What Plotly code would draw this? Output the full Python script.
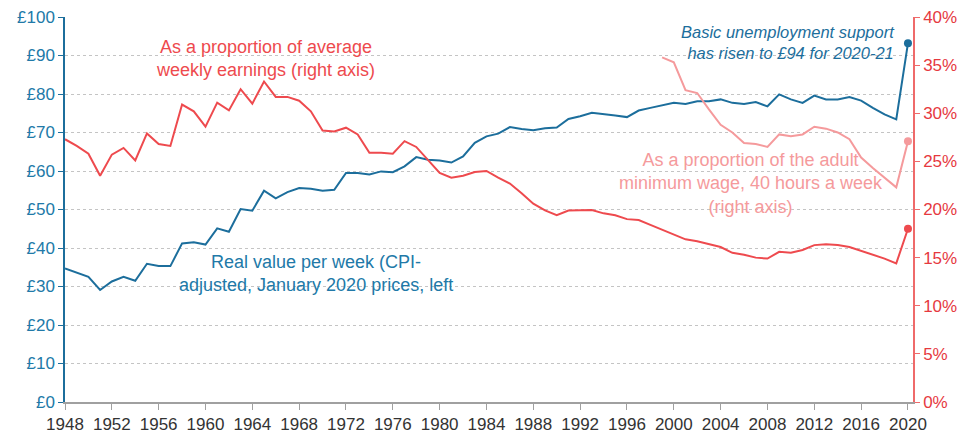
import plotly.graph_objects as go

years = list(range(1948, 2021))
real_value = [34.7, 33.6, 32.5, 29.1, 31.3, 32.5, 31.5, 35.9, 35.3, 35.3,
              41.2, 41.5, 40.9, 45.1, 44.2, 50.1, 49.7, 54.9, 52.9, 54.5,
              55.6, 55.4, 54.9, 55.1, 59.5, 59.5, 59.1, 59.9, 59.7, 61.2,
              63.6, 62.9, 62.7, 62.2, 63.8, 67.3, 69.0, 69.7, 71.4, 70.9,
              70.6, 71.1, 71.3, 73.5, 74.2, 75.1, 74.8, 74.4, 74.0, 75.7,
              76.4, 77.0, 77.7, 77.4, 78.1, 78.1, 78.6, 77.7, 77.4, 77.9,
              76.8, 79.9, 78.6, 77.7, 79.6, 78.6, 78.6, 79.2, 78.3, 76.4,
              74.7, 73.4, 93.2]
pct_earnings = [27.3, 26.6, 25.8, 23.5, 25.7, 26.4, 25.1, 27.9, 26.8, 26.6,
                30.9, 30.2, 28.6, 31.1, 30.3, 32.5, 31.0, 33.3, 31.7, 31.7,
                31.3, 30.2, 28.2, 28.1, 28.5, 27.8, 25.9, 25.9, 25.8, 27.1,
                26.5, 25.2, 23.8, 23.3, 23.5, 23.9, 24.0, 23.3, 22.7, 21.7,
                20.6, 19.9, 19.4, 19.9, 19.9, 19.95, 19.6, 19.4, 19.0, 18.9,
                18.4, 17.9, 17.4, 16.9, 16.7, 16.4, 16.1, 15.5, 15.3, 15.0,
                14.9, 15.6, 15.5, 15.8, 16.3, 16.4, 16.3, 16.1, 15.7, 15.35,
                14.9, 14.4, 18.0]
mw_years = list(range(1999, 2021))
pct_min_wage = [35.8, 35.3, 32.4, 32.1, 30.4, 28.8, 28.0, 26.9, 26.8, 26.5,
                27.8, 27.6, 27.8, 28.6, 28.4, 28.0, 27.3, 25.4, 24.3, 23.3,
                22.3, 27.1]

left_ticks = list(range(0, 101, 10))
left_labels = [f"£{v}" for v in left_ticks]
right_ticks = list(range(0, 41, 5))
right_labels = [f"{v}%" for v in right_ticks]
x_ticks = list(range(1948, 2021, 4))

BLUE = "#1C6E9C"
BLUE_TXT = "#2179A8"
RED = "#EE4A4E"
RED_TXT = "#E6393F"
PINK = "#F59A9C"
FONT = "Liberation Sans, Arial, sans-serif"

fig = go.Figure()
fig.add_trace(go.Scatter(x=years, y=real_value, mode="lines",
                         line=dict(color=BLUE, width=2), yaxis="y"))
fig.add_trace(go.Scatter(x=[years[-1]], y=[real_value[-1]], mode="markers",
                         marker=dict(color=BLUE, size=8), yaxis="y"))
fig.add_trace(go.Scatter(x=years, y=pct_earnings, mode="lines",
                         line=dict(color=RED, width=2), yaxis="y2"))
fig.add_trace(go.Scatter(x=[years[-1]], y=[pct_earnings[-1]], mode="markers",
                         marker=dict(color=RED, size=8), yaxis="y2"))
fig.add_trace(go.Scatter(x=mw_years, y=pct_min_wage, mode="lines",
                         line=dict(color=PINK, width=2), yaxis="y2"))
fig.add_trace(go.Scatter(x=[mw_years[-1]], y=[pct_min_wage[-1]], mode="markers",
                         marker=dict(color=PINK, size=8), yaxis="y2"))

fig.update_layout(
    width=969, height=435,
    margin=dict(l=65, r=56, t=17, b=33, autoexpand=False),
    paper_bgcolor="white", plot_bgcolor="white",
    showlegend=False,
    font=dict(family=FONT, size=17, color="#333333"),
    xaxis=dict(range=[1948, 2020.43], tickvals=x_ticks, ticks="outside",
               ticklen=6, tickcolor="#A0A0A0", showline=True,
               linecolor="#A0A0A0", linewidth=1.5, showgrid=False,
               zeroline=False, automargin=False,
               tickfont=dict(size=17, color="#333333")),
    yaxis=dict(range=[0, 100], tickvals=left_ticks, ticktext=left_labels,
               ticks="outside", ticklen=5, tickcolor=BLUE, showline=True,
               linecolor=BLUE, linewidth=1.5, showgrid=True,
               gridcolor="#C4C4C4", griddash="dot", gridwidth=1,
               zeroline=False, automargin=False,
               tickfont=dict(size=17, color=BLUE_TXT)),
    yaxis2=dict(range=[0, 40], tickvals=right_ticks, ticktext=right_labels,
                overlaying="y", side="right", ticks="outside", ticklen=5,
                tickcolor="#EF6A6A", showline=True, linecolor="#EF6A6A",
                linewidth=1.5, showgrid=False, zeroline=False,
                automargin=False, tickfont=dict(size=17, color=RED_TXT)),
)

fig.add_annotation(x=1965.1, y=89.2, xref="x", yref="y", showarrow=False,
                   text="As a proportion of average<br>weekly earnings (right axis)",
                   font=dict(family=FONT, size=18, color=RED), align="center")
fig.add_annotation(x=1969.4, y=33.4, xref="x", yref="y", showarrow=False,
                   text="Real value per week (CPI-<br>adjusted, January 2020 prices, left",
                   font=dict(family=FONT, size=18, color=BLUE_TXT), align="center")
fig.add_annotation(x=2019.05, y=93.5, xref="x", yref="y", showarrow=False,
                   xanchor="right",
                   text="<i>Basic unemployment support<br>has risen to £94 for 2020-21</i>",
                   font=dict(family=FONT, size=16.5, color=BLUE), align="right")
fig.add_annotation(x=2006.6, y=56.7, xref="x", yref="y", showarrow=False,
                   text="As a proportion of the adult<br>minimum wage, 40 hours a week<br>(right axis)",
                   font=dict(family=FONT, size=18, color=PINK), align="center")

fig.write_html(
    "out.html",
    config={"displayModeBar": False},
    post_script="document.body.style.margin='0';document.body.style.padding='0';"
                "document.body.style.overflow='hidden';",
)
